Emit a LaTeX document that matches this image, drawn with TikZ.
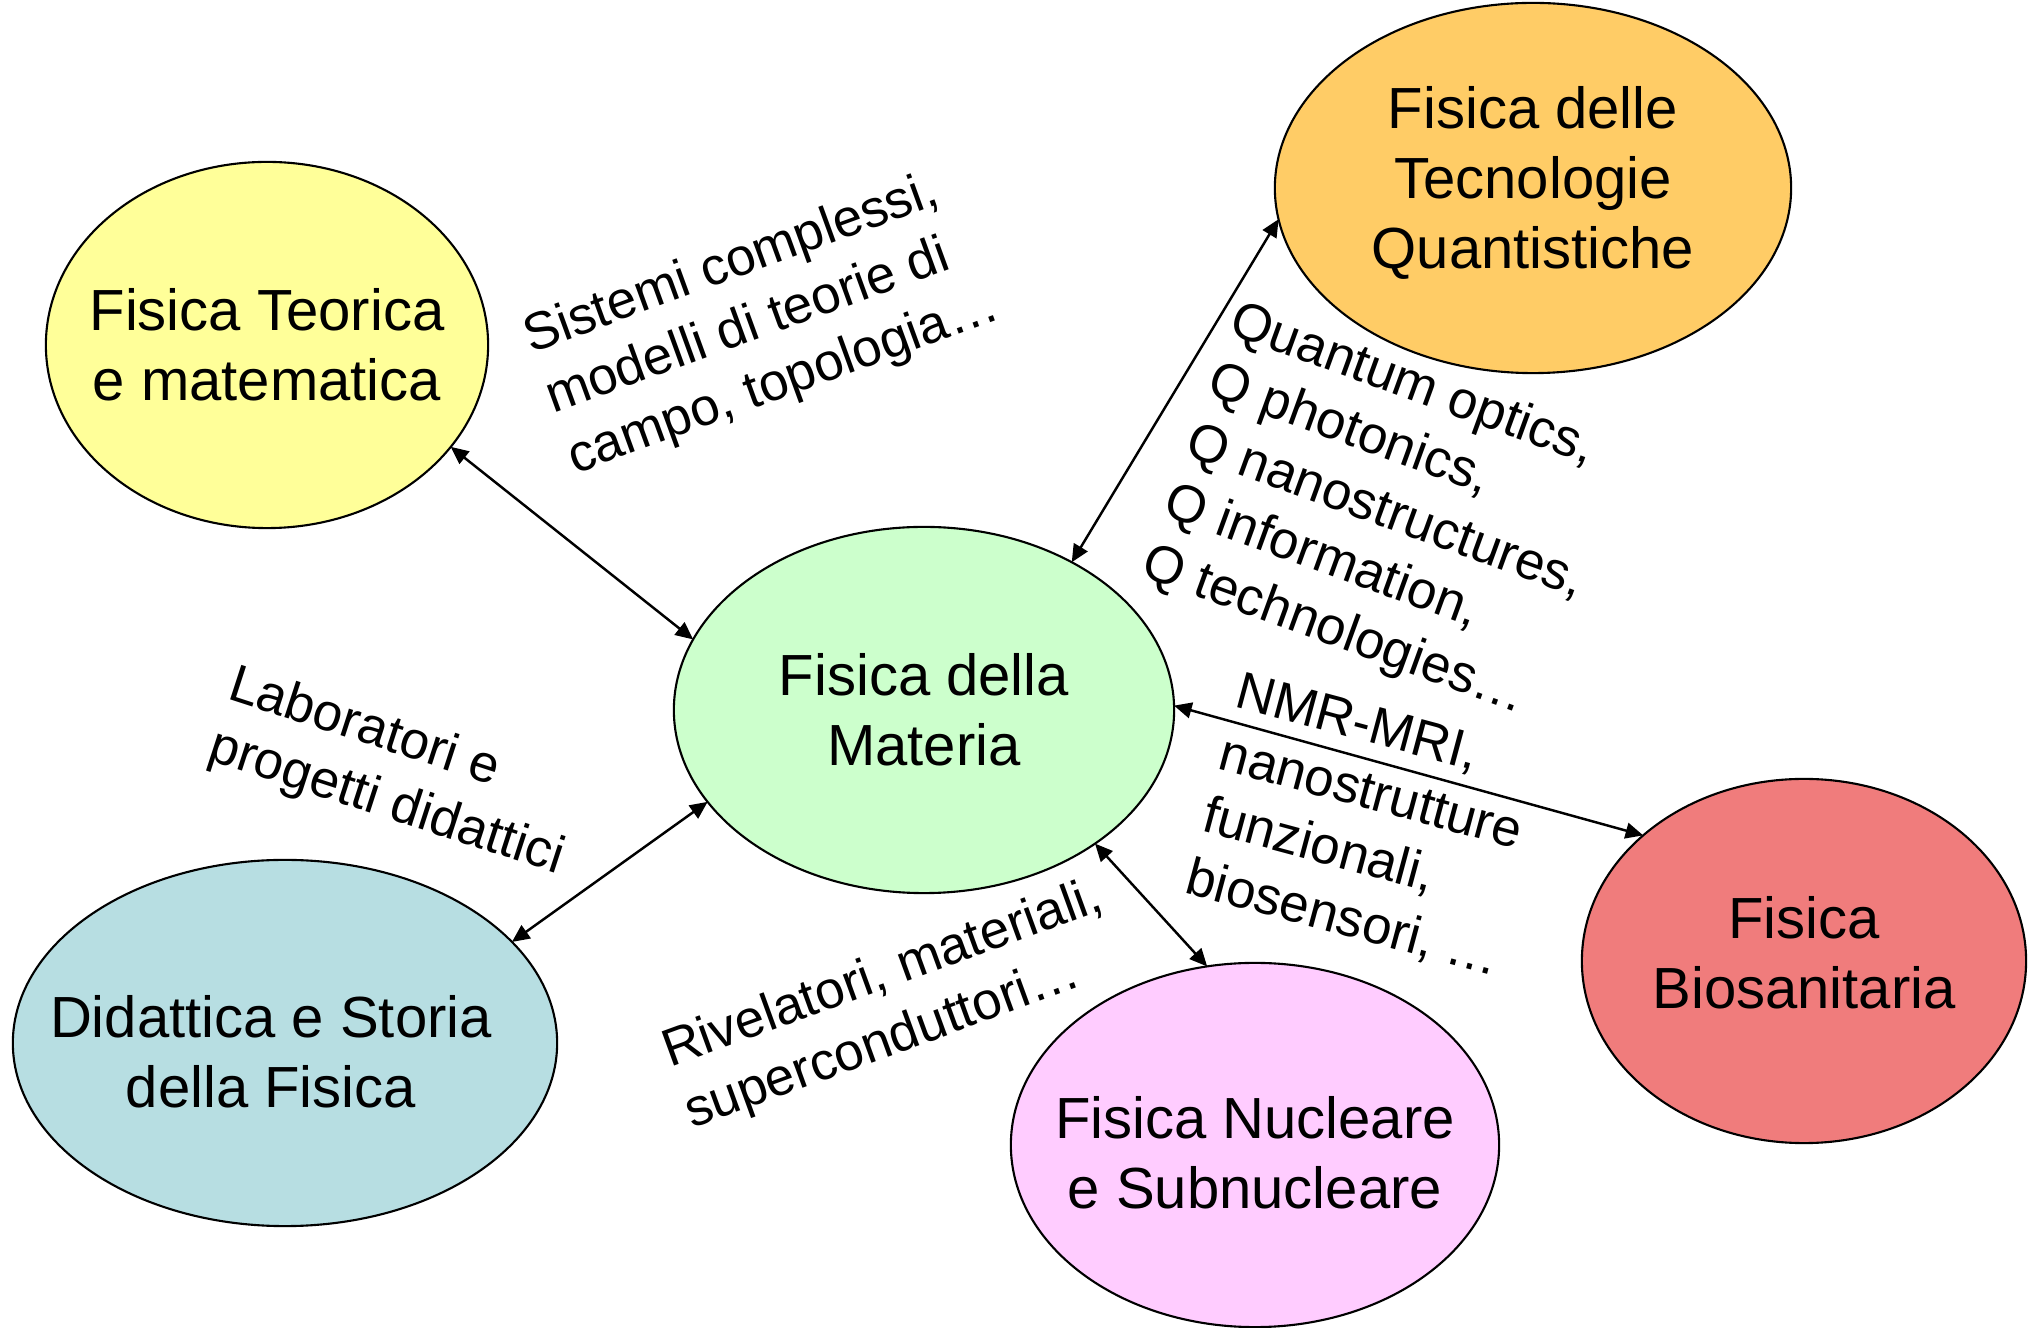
\documentclass[tikz,border=0pt]{standalone}
\usepackage{fontspec}
\setmainfont{Liberation Sans}
\usetikzlibrary{shapes.geometric,arrows.meta}
\definecolor{teocol}{RGB}{255,255,153}
\definecolor{quacol}{RGB}{255,204,102}
\definecolor{matcol}{RGB}{204,255,204}
\definecolor{didcol}{RGB}{183,222,226}
\definecolor{nuccol}{RGB}{255,204,255}
\definecolor{biocol}{RGB}{240,124,124}
\tikzset{
	area/.style={ellipse,draw,line width=0.6pt,inner sep=0pt,outer sep=0pt},
	areatext/.style={align=center,inner sep=0pt,font=\fontsize{16.5}{19.9}\selectfont},
	nota/.style={align=left,inner sep=0pt,font=\fontsize{15}{18.3}\selectfont},
	link/.style={{Triangle[length=5pt,width=4.5pt]}-{Triangle[length=5pt,width=4.5pt]},line width=0.7pt}
}
\begin{document}
\begin{tikzpicture}[x=0.01cm,y=-0.01cm]
	\path[fill=white] (0,0) rectangle (2035,1328);
	\useasboundingbox (0,0) rectangle (2035,1328);

	\node[area,fill=matcol,minimum width=5.00cm,minimum height=3.66cm,label={[areatext]center:Fisica della\\Materia}] (mat) at (924,710) {};
	\node[area,fill=teocol,minimum width=4.42cm,minimum height=3.66cm,label={[areatext]center:Fisica Teorica\\e matematica}] (teo) at (267,345) {};
	\node[area,fill=quacol,minimum width=5.16cm,minimum height=3.70cm,label={[areatext,yshift=0.05cm]center:Fisica delle\\Tecnologie\\Quantistiche}] (qua) at (1533,188) {};
	\node[area,fill=didcol,minimum width=5.44cm,minimum height=3.66cm,label={[areatext,xshift=-0.14cm,yshift=-0.09cm]center:Didattica e Storia\\della Fisica}] (did) at (285,1043) {};
	\node[area,fill=nuccol,minimum width=4.88cm,minimum height=3.64cm,label={[areatext,yshift=-0.08cm]center:Fisica Nucleare\\e Subnucleare}] (nuc) at (1255,1145) {};
	\node[area,fill=biocol,minimum width=4.44cm,minimum height=3.64cm,label={[areatext,yshift=0.08cm]center:Fisica\\Biosanitaria}] (bio) at (1804,961) {};

	\draw[link] (teo.-29) -- (mat.163);
	\draw[link] (qua.-173) -- (mat.45);
	\draw[link] (mat.1) -- (bio.142);
	\draw[link] (mat.-157) -- (did.24);
	\draw[link] (mat.-38) -- (nuc.105);

	\node[nota,rotate=20] (noteo) at (762,323) {Sistemi complessi,\\modelli di teorie di\\campo, topologia…};
	\node[nota,rotate=-20] (noqua) at (1385,513) {Quantum optics,\\Q photonics,\\Q nanostructures,\\Q information,\\Q technologies…};
	\node[nota,rotate=-15] (nobio) at (1368,827) {NMR-MRI,\\nanostrutture\\funzionali,\\biosensori, …};
	\node[nota,rotate=-18] (nodid) at (396,773) {Laboratori e\\progetti didattici};
	\node[nota,rotate=20] (nonuc) at (894,1006) {Rivelatori, materiali,\\superconduttori…};
\end{tikzpicture}
\end{document}
